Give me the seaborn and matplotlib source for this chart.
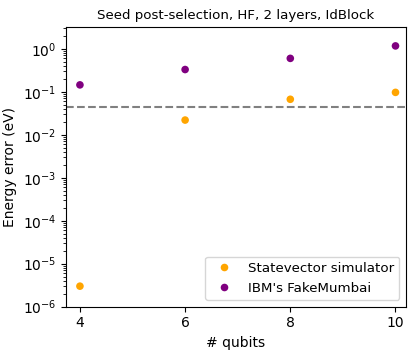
import numpy as np
import pandas as pd
import matplotlib
matplotlib.use('Agg')
import matplotlib.pyplot as plt
import seaborn as sns

# values
qubits = [4, 6, 8, 10]
err_statevector = [3.0e-6, 0.022, 0.067, 0.097]
err_fakemumbai = [0.145, 0.33, 0.60, 1.17]
chem_acc = 0.0435
labels = ['Statevector simulator', "IBM's FakeMumbai"]

df = pd.DataFrame({
    'qubits': qubits * 2,
    'error': err_statevector + err_fakemumbai,
    'backend': [labels[0]] * 4 + [labels[1]] * 4,
})

plt.rcParams['font.family'] = ['DejaVu Sans']
plt.rcParams['font.size'] = 9.6

fig = plt.figure(figsize=(4.16, 3.57), dpi=100)
ax = fig.add_axes([0.158, 0.141, 0.818, 0.783])

sns.scatterplot(data=df, x='qubits', y='error', hue='backend',
                palette={labels[0]: 'orange', labels[1]: 'purple'},
                s=30, linewidth=0, ax=ax)
ax.axhline(chem_acc, color='grey', ls='--', lw=1.5)

ax.set_yscale('log')
ax.set_ylim(1e-6, 3.2)
ax.set_xlim(3.73, 10.2)
ax.set_xticks([4, 6, 8, 10])
ax.tick_params(labelsize=10)
ax.set_xlabel('# qubits', fontsize=10)
ax.set_ylabel('Energy error (eV)', fontsize=10)
ax.set_title('Seed post-selection, HF, 2 layers, IdBlock', fontsize=9.6)
ax.legend(loc='lower right', title=None, fontsize=9.6)

fig.savefig('out.png', dpi=100)
